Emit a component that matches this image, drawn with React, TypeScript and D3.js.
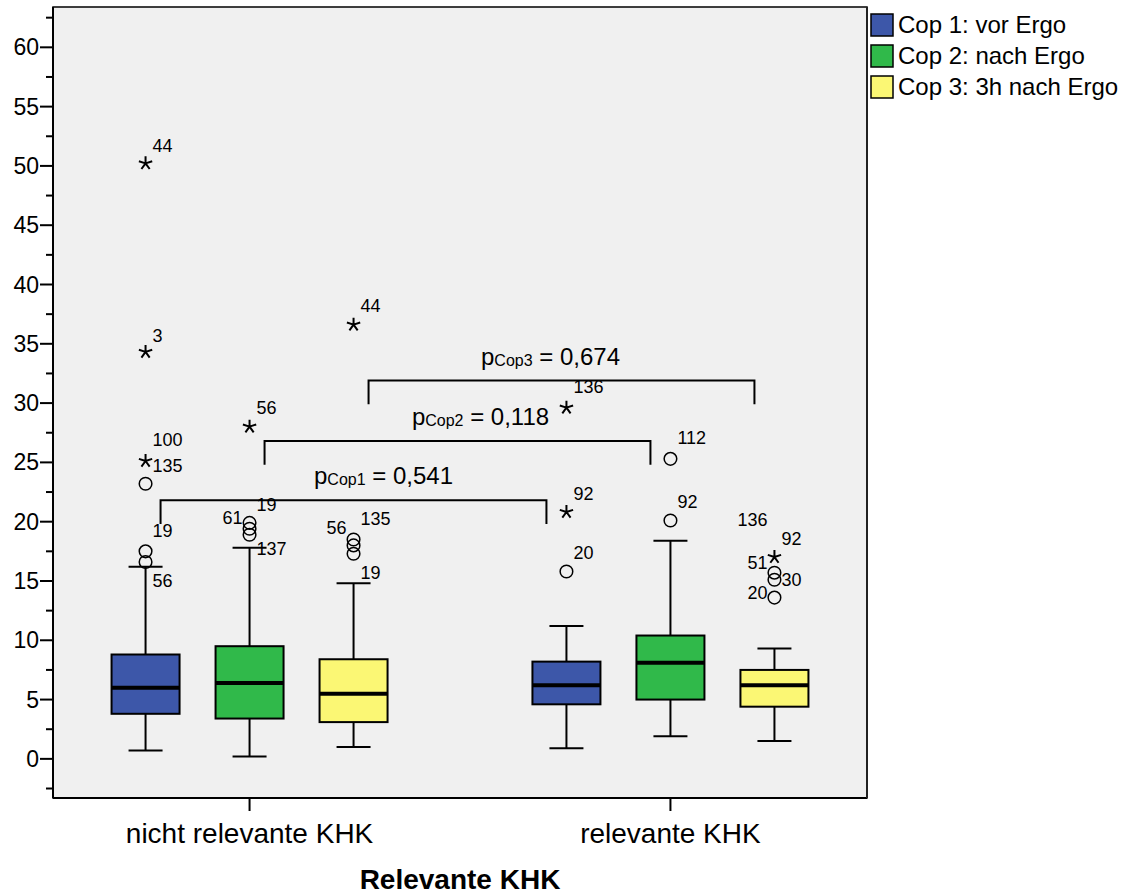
import React from 'react';
import * as d3 from 'd3';

// categories and series
const groups = ['nicht relevante KHK', 'relevante KHK'];
const seriesKeys = ['Cop1', 'Cop2', 'Cop3'];
const seriesNames = ['Cop 1: vor Ergo', 'Cop 2: nach Ergo', 'Cop 3: 3h nach Ergo'];
const seriesColors = ['#3d57a9', '#30b94a', '#fbf774'];

// box stats per group: [whisker low, q1, median, q3, whisker high]
const cop1Stats = [[0.7, 3.8, 6.0, 8.8, 16.2], [0.9, 4.6, 6.2, 8.2, 11.2]];
const cop2Stats = [[0.2, 3.4, 6.4, 9.5, 17.8], [1.9, 5.0, 8.1, 10.4, 18.4]];
const cop3Stats = [[1.0, 3.1, 5.5, 8.4, 14.8], [1.5, 4.4, 6.2, 7.5, 9.3]];
const allStats = [cop1Stats, cop2Stats, cop3Stats];

// outliers: group index, series index, value, kind
const outliers = [
  { g: 0, s: 0, v: 50.3, kind: 'star' },
  { g: 0, s: 0, v: 34.4, kind: 'star' },
  { g: 0, s: 0, v: 25.2, kind: 'star' },
  { g: 0, s: 0, v: 23.2, kind: 'circle' },
  { g: 0, s: 0, v: 17.5, kind: 'circle' },
  { g: 0, s: 0, v: 16.6, kind: 'circle' },
  { g: 0, s: 1, v: 28.1, kind: 'star' },
  { g: 0, s: 1, v: 19.9, kind: 'circle' },
  { g: 0, s: 1, v: 19.4, kind: 'circle' },
  { g: 0, s: 1, v: 18.9, kind: 'circle' },
  { g: 0, s: 2, v: 36.7, kind: 'star' },
  { g: 0, s: 2, v: 18.5, kind: 'circle' },
  { g: 0, s: 2, v: 18.0, kind: 'circle' },
  { g: 0, s: 2, v: 17.3, kind: 'circle' },
  { g: 1, s: 0, v: 29.7, kind: 'star' },
  { g: 1, s: 0, v: 20.9, kind: 'star' },
  { g: 1, s: 0, v: 15.8, kind: 'circle' },
  { g: 1, s: 1, v: 25.3, kind: 'circle' },
  { g: 1, s: 1, v: 20.1, kind: 'circle' },
  { g: 1, s: 2, v: 17.1, kind: 'star' },
  { g: 1, s: 2, v: 15.7, kind: 'circle' },
  { g: 1, s: 2, v: 15.1, kind: 'circle' },
  { g: 1, s: 2, v: 13.6, kind: 'circle' },
];

// case number labels next to outliers (value = label height)
const outlierLabels = [
  { g: 0, s: 0, v: 51.7, text: '44', side: 'right' },
  { g: 0, s: 0, v: 35.7, text: '3', side: 'right' },
  { g: 0, s: 0, v: 26.9, text: '100', side: 'right' },
  { g: 0, s: 0, v: 24.7, text: '135', side: 'right' },
  { g: 0, s: 0, v: 19.2, text: '19', side: 'right' },
  { g: 0, s: 0, v: 15.0, text: '56', side: 'right' },
  { g: 0, s: 1, v: 29.6, text: '56', side: 'right' },
  { g: 0, s: 1, v: 21.4, text: '19', side: 'right' },
  { g: 0, s: 1, v: 20.3, text: '61', side: 'left' },
  { g: 0, s: 1, v: 17.7, text: '137', side: 'right' },
  { g: 0, s: 2, v: 38.2, text: '44', side: 'right' },
  { g: 0, s: 2, v: 20.25, text: '135', side: 'right' },
  { g: 0, s: 2, v: 19.5, text: '56', side: 'left' },
  { g: 0, s: 2, v: 15.7, text: '19', side: 'right' },
  { g: 1, s: 0, v: 31.4, text: '136', side: 'right' },
  { g: 1, s: 0, v: 22.4, text: '92', side: 'right' },
  { g: 1, s: 0, v: 17.4, text: '20', side: 'right' },
  { g: 1, s: 1, v: 27.1, text: '112', side: 'right' },
  { g: 1, s: 1, v: 21.7, text: '92', side: 'right' },
  { g: 1, s: 2, v: 20.2, text: '136', side: 'left' },
  { g: 1, s: 2, v: 18.6, text: '92', side: 'right' },
  { g: 1, s: 2, v: 16.5, text: '51', side: 'left' },
  { g: 1, s: 2, v: 15.1, text: '30', side: 'right' },
  { g: 1, s: 2, v: 14.0, text: '20', side: 'left' },
];

// significance brackets between groups, one per series
const bracketLevels = [21.8, 26.8, 31.9];
const pValues = ['0,541', '0,118', '0,674'];

const majorTicks = d3.range(0, 61, 5);
const minorTicks = d3.range(-2.5, 63, 2.5).filter(v => v % 5 !== 0);

const font = '"Liberation Sans", Arial, sans-serif';

const left = 53, right = 867, top = 7, bottom = 798;
// horizontal nudge of the p-value texts from bracket centre
const pTextShift = [30, 23, -11];

const App = () => {
  const y = d3.scaleLinear().domain([-3.3, 63.4]).range([bottom, top]);
  const x = d3.scalePoint().domain(groups).range([left, right]).padding(0.467);
  const offset = d3.scalePoint().domain(seriesKeys).range([-104, 104]);
  const boxW = 68;
  const capW = 34;

  const cx = (g: number, s: number) => (x(groups[g]) as number) + (offset(seriesKeys[s]) as number);

  const starPath = (px: number, py: number, r: number) =>
    d3.range(5).map(i => {
      const a = -Math.PI / 2 + (i * 2 * Math.PI) / 5;
      return `M${px},${py}L${px + r * Math.cos(a)},${py + r * Math.sin(a)}`;
    }).join('');

  return (
    <svg width={1122} height={894} style={{ position: 'absolute', left: 0, top: 0, background: '#fff' }}
      fontFamily={font}>
      <rect x={left} y={top} width={right - left} height={bottom - top} fill="#f0f0f0" stroke="#000" strokeWidth={1.5} />
      <line x1={left} x2={left} y1={top} y2={bottom} stroke="#000" strokeWidth={2} />
      <line x1={left} x2={right} y1={bottom} y2={bottom} stroke="#000" strokeWidth={2} />
      <line x1={right} x2={right} y1={top} y2={bottom} stroke="#222" strokeWidth={2} />

      {/* y axis */}
      {majorTicks.map(t => (
        <g key={'M' + t}>
          <line x1={left - 13} x2={left} y1={y(t)} y2={y(t)} stroke="#000" strokeWidth={2} />
          <text x={left - 14} y={y(t)} dy="0.35em" textAnchor="end" fontSize={23}>{t}</text>
        </g>
      ))}
      {minorTicks.map(t => (
        <line key={'m' + t} x1={left - 7} x2={left} y1={y(t)} y2={y(t)} stroke="#000" strokeWidth={2} />
      ))}

      {/* x axis */}
      {groups.map(gr => (
        <g key={gr}>
          <line x1={x(gr)} x2={x(gr)} y1={bottom} y2={bottom + 13} stroke="#000" strokeWidth={2} />
          <text x={x(gr)} y={843} textAnchor="middle" fontSize={28}>{gr}</text>
        </g>
      ))}
      <text x={460} y={889} textAnchor="middle" fontSize={28} fontWeight="bold">Relevante KHK</text>

      {/* boxes */}
      {allStats.map((stats, s) => stats.map((st, g) => {
        const c = cx(g, s);
        const [lo, q1, med, q3, hi] = st;
        return (
          <g key={`b${s}-${g}`}>
            <line x1={c} x2={c} y1={y(hi)} y2={y(q3)} stroke="#000" strokeWidth={2} />
            <line x1={c} x2={c} y1={y(q1)} y2={y(lo)} stroke="#000" strokeWidth={2} />
            <line x1={c - capW / 2} x2={c + capW / 2} y1={y(hi)} y2={y(hi)} stroke="#000" strokeWidth={2} />
            <line x1={c - capW / 2} x2={c + capW / 2} y1={y(lo)} y2={y(lo)} stroke="#000" strokeWidth={2} />
            <rect x={c - boxW / 2} y={y(q3)} width={boxW} height={y(q1) - y(q3)}
              fill={seriesColors[s]} stroke="#000" strokeWidth={2} />
            <line x1={c - boxW / 2} x2={c + boxW / 2} y1={y(med)} y2={y(med)} stroke="#000" strokeWidth={4} />
          </g>
        );
      }))}

      {/* outliers */}
      {outliers.map((o, i) => {
        const c = cx(o.g, o.s);
        return o.kind === 'circle'
          ? <circle key={'o' + i} cx={c} cy={y(o.v)} r={6.3} fill="none" stroke="#000" strokeWidth={1.5} />
          : <path key={'o' + i} d={starPath(c, y(o.v) + 1, 7)} stroke="#000" strokeWidth={2} fill="none" />;
      })}
      {outlierLabels.map((l, i) => {
        const c = cx(l.g, l.s);
        return (
          <text key={'l' + i} x={l.side === 'right' ? c + 7 : c - 7} y={y(l.v)} dy="0.35em"
            textAnchor={l.side === 'right' ? 'start' : 'end'} fontSize={18}>{l.text}</text>
        );
      })}

      {/* significance brackets */}
      {seriesKeys.map((k, s) => {
        const x1 = cx(0, s) + 15;
        const x2 = cx(1, s) - 20;
        const yl = y(bracketLevels[s]);
        const drop = y(bracketLevels[s] - 2) - yl;
        return (
          <g key={'br' + k}>
            <path d={`M${x1},${yl + drop}V${yl}H${x2}V${yl + drop}`} fill="none" stroke="#000" strokeWidth={2} />
            <text x={(x1 + x2) / 2 + pTextShift[s]} y={yl - 16} textAnchor="middle" fontSize={24}>
              <tspan>p</tspan>
              <tspan fontSize={16} dy={1}>{k}</tspan>
              <tspan dy={-1}> = {pValues[s]}</tspan>
            </text>
          </g>
        );
      })}

      {/* legend */}
      {seriesNames.map((n, i) => (
        <g key={n} transform={`translate(871, ${14 + i * 31})`}>
          <rect width={22} height={22} fill={seriesColors[i]} stroke="#000" strokeWidth={1.5} />
          <text x={27} y={19} fontSize={24}>{n}</text>
        </g>
      ))}
    </svg>
  );
};

export default App;
